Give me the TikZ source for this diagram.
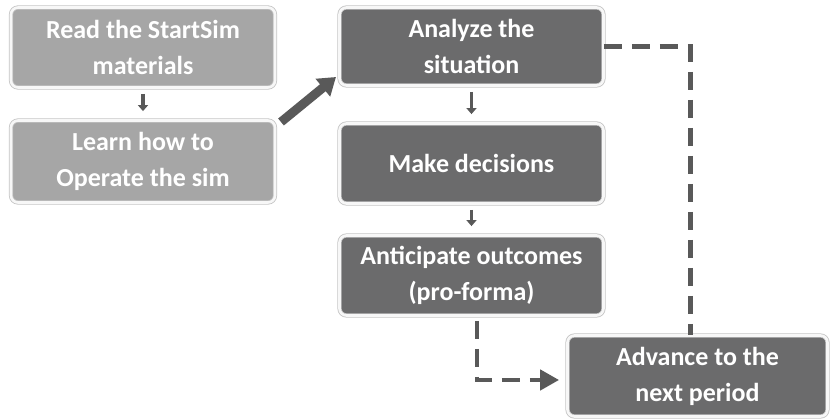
\documentclass[tikz,border=0pt]{standalone}
\usepackage{fontspec}
\setmainfont{Carlito}
\usepackage{tikz}
\usetikzlibrary{arrows.meta,calc}

\definecolor{boxlight}{HTML}{A6A6A6}
\definecolor{boxdark}{HTML}{6B6B6C}
\definecolor{edgegray}{HTML}{C4C4C4}
\definecolor{arrgray}{HTML}{595959}

\tikzset{
  stepbox/.style={rounded corners=7pt, draw=edgegray, line width=0.8pt,
    double=white!94!gray, double distance=2.6pt, text=white,
    font=\fontsize{26}{36}\selectfont\bfseries, align=center,
    minimum width=264pt, minimum height=80pt, inner sep=0pt},
  lightbox/.style={stepbox, fill=boxlight},
  darkbox/.style={stepbox, fill=boxdark},
  smallarr/.style={arrgray, line width=3.4pt,
    -{Triangle[width=10pt,length=6pt]}, shorten <=6pt, shorten >=9pt},
  dasharr/.style={arrgray, line width=4.5pt, dash pattern=on 18pt off 10pt}
}

\begin{document}
\begin{tikzpicture}[x=1pt,y=1pt]
  \useasboundingbox (0,0) rectangle (830,419);
  % left column
  \node[lightbox] (read) at (143,371.5) {Read the StartSim\\materials};
  \node[lightbox, minimum height=82pt] (learn) at (143,257.5) {Learn how to\\Operate the sim};
  % middle column
  \node[darkbox, minimum height=78pt] (analyze) at (471.5,372.5) {Analyze the\\situation};
  \node[darkbox] (decide) at (471.5,255.5) {Make decisions};
  \node[darkbox] (outcome) at (471.5,143.5) {Anticipate outcomes\\(pro-forma)};
  % last step
  \node[darkbox, minimum width=260pt, minimum height=81pt] (advance) at (697.5,43) {Advance to the\\next period};

  \draw[smallarr] (read) -- (learn);
  \draw[smallarr] (analyze) -- (decide);
  \draw[smallarr] (decide) -- (outcome);

  % big arrow into the cycle
  \coordinate (bigS) at (281,297);
  \coordinate (bigE) at (336,342);
  \draw[arrgray, line width=9pt, -{Triangle[width=22pt,length=17pt]}] (bigS) -- (bigE);

  % dashed loop
  \draw[dasharr] (analyze.east) -| ($(advance.north)+(-7,0)$);
  \draw[dasharr, -{Triangle[width=20pt,length=19pt]}, shorten <=5pt, shorten >=8pt]
    ($(outcome.south)+(5.5,0)$) |- ($(advance.west)+(0,-4)$);
\end{tikzpicture}
\end{document}
